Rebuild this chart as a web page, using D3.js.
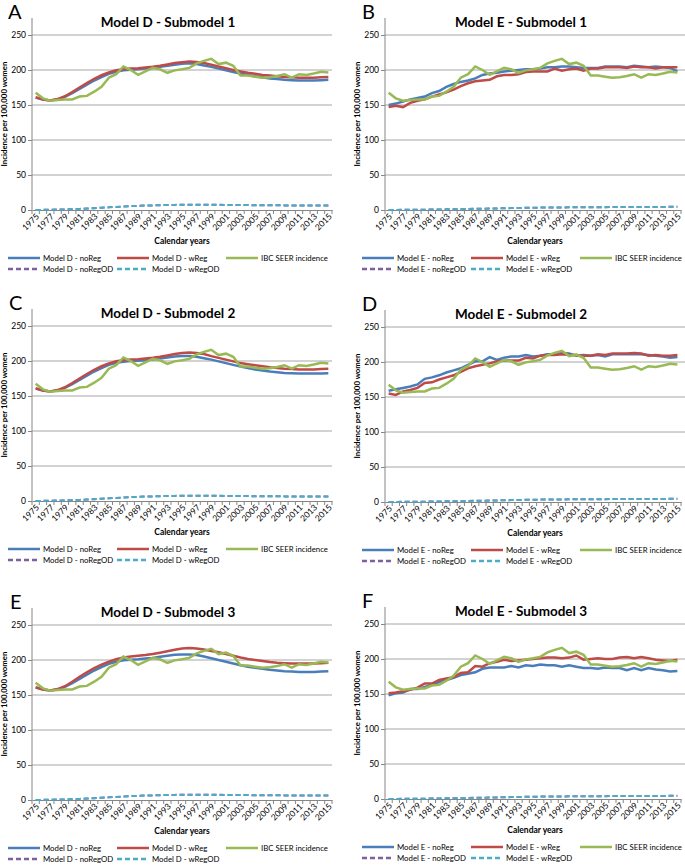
<!DOCTYPE html>
<html><head><meta charset="utf-8">
<script src="https://cdn.jsdelivr.net/npm/d3@7"></script>
<style>
html,body{margin:0;padding:0;background:#fff;}
svg{display:block;font-family:Lato,"Open Sans",sans-serif;}
</style></head>
<body><svg id="c" width="685" height="867"></svg>
<script>
const years = d3.range(1975, 2016);
const tickYears = d3.range(1975, 2016, 2);
const yTicks = [0, 50, 100, 150, 200, 250];

const seer = [167.5,159.5,156,157,158,158,162,163,169,176,189,194,205,200,193,198,203,201,196,199.5,201,203,209.5,213,216,208.5,210.5,206,192,192,190.5,189,189.5,191.5,194,189,194,193,195,197.5,196.5];

const dNoReg1 = [160.5,158,156.5,158,161.5,167,173,179,185,190,194.5,197.5,199.5,200.5,201,202,203,204.5,206,207.5,209,209.5,208.5,206.5,204.5,202,199.5,197,195,193,191,189.5,188,187,186,185.5,185,185,185,185.5,186];
const dWReg1 = [161,158,156.5,158.5,162.5,168.5,175,181.5,187.5,192.5,196.5,199.5,201,202,202.5,203.5,204.5,206,208,210,211,212,211.5,210,207.5,205,202.5,200,198,196,194.5,193,192,191,190,189.5,189,189,189,189.5,190];
const dNoReg2 = [160.5,158,156.5,158,161.5,167,173,179,185,190,194.5,197.5,199,200,200.5,201,202,203.5,205,206.5,207,207,206,204,202,199.5,197,194.5,192,190,188,186.5,185,184,183,182.5,182,182,182,182,182.5];
const dWReg2 = [161,158,156.5,158.5,162.5,168.5,175,181.5,187.5,192.5,196.5,199.5,201,202,202.5,203.5,204.5,206,208,210,211.5,212,211.5,210,207,204.5,202,199.5,197,195.5,194,192.5,191,190,189,188.5,188,188,188,188.5,189];
const dNoReg3 = [160.5,158,156.5,158,161.5,167,173,179,185,190,194.5,197.5,199.5,200.5,201,202,203,204.5,206,207.5,208,208,207,205,202.5,200,197.5,195,192.5,190.5,189,187.5,186,185,184,183.5,183,183,183,183.5,184];
const dWReg3 = [161,158,156.5,158.5,162.5,169,176,182.5,188.5,193.5,197.5,201,203.5,205,206,207,208.5,210.5,212.5,214.5,216.5,217,216.5,215,213,211,208.5,206,203.5,201.5,200,198.5,197,196,195.5,195,195,195,195,195.5,196];

const eNoReg1 = [150,152,155,158,160,162,167,170,176,180,183,185,188,193,195,196,198,199,200,201,201,202,204,204,205,205,204,203,203,203,205,205,205,204,206,205,204,205,204,203,198];
const eWReg1 = [147,149,147,153,156,158,162,165,168,172,177,181,184,185,186,191,193,193,194,197,198,198,198,202,199,201,202,199,202,202,204,204,204,203,205,204,204,202,204,204,204];
const eNoReg2 = [159,161,163,165,168,176,178,181,185,188,191,196,201,201,207,203,206,208,208,210,208,209,211,211,213,212,209,210,209,210,208,211,211,211,211,211,210,209,208,206,207];
const eWReg2 = [155,153,158,160,163,170,171,175,178,181,186,191,194,196,198,201,202,202,202,206,205,209,210,210,211,210,210,209,209,211,210,212,212,212,213,212,209,210,209,209,210];
const eNoReg3 = [148,151,152,157,157,160,163,167,170,173,177,179,181,186,188,188,188,190,188,191,190,192,191,191,189,191,189,187,187,186,188,187,187,184,187,184,187,185,184,182,183];
const eWReg3 = [151,152,154,156,159,165,165,170,172,174,180,181,190,189,194,196,199,197,198,199,200,201,202,202,201,202,205,199,200,201,200,200,202,203,201,203,201,199,198,197,199];

const dNoRegOD = [0,0.2,0.4,0.6,0.9,1.2,1.6,2,2.6,3.2,3.8,4.4,5,5.5,5.9,6.3,6.6,6.9,7.1,7.3,7.4,7.5,7.5,7.5,7.5,7.4,7.3,7.2,7.1,7,6.9,6.8,6.7,6.7,6.6,6.6,6.5,6.5,6.5,6.5,6.5];
const dWRegOD = [0,0.2,0.4,0.6,0.9,1.2,1.6,2,2.6,3.2,3.8,4.4,5,5.5,5.9,6.3,6.6,6.9,7.1,7.3,7.4,7.5,7.5,7.5,7.5,7.4,7.3,7.2,7.1,7,6.9,6.8,6.7,6.7,6.6,6.6,6.5,6.5,6.5,6.5,6.5];
const eNoRegOD = [0,0.1,0.2,0.3,0.4,0.5,0.6,0.7,0.9,1.1,1.3,1.5,1.7,1.9,2.1,2.3,2.5,2.7,2.9,3.1,3.3,3.4,3.5,3.6,3.7,3.8,3.9,4,4,4.1,4.1,4.2,4.2,4.3,4.3,4.3,4.4,4.4,4.4,4.5,4.5];
const eWRegOD = [0,0.1,0.2,0.3,0.4,0.5,0.6,0.7,0.9,1.1,1.3,1.5,1.7,1.9,2.1,2.3,2.5,2.7,2.9,3.1,3.3,3.4,3.5,3.6,3.7,3.8,3.9,4,4,4.1,4.1,4.2,4.2,4.3,4.3,4.3,4.4,4.4,4.4,4.5,4.5];

const panelLetters = ["A","B","C","D","E","F"];
const panelTitles = ["Model D - Submodel 1","Model E - Submodel 1","Model D - Submodel 2","Model E - Submodel 2","Model D - Submodel 3","Model E - Submodel 3"];
const panelModels = ["D","E","D","E","D","E"];
const panelNoReg = [dNoReg1,eNoReg1,dNoReg2,eNoReg2,dNoReg3,eNoReg3];
const panelWReg = [dWReg1,eWReg1,dWReg2,eWReg2,dWReg3,eWReg3];

const C = {blue:"#4a7ebb", red:"#be4b48", green:"#98b954", purple:"#7d60a0", cyan:"#4bacc6"};

const svg = d3.select("#c");
const layout = [
  {x0:32, w:300, top:35, bot:210, lx:8, letx:8},
  {x0:385, w:296, top:35, bot:210, lx:362, letx:362},
  {x0:32, w:300, top:326, bot:501, lx:8, letx:9},
  {x0:385, w:296, top:327, bot:502, lx:362, letx:362},
  {x0:32, w:300, top:625, bot:800, lx:8, letx:10},
  {x0:385, w:296, top:624, bot:799, lx:362, letx:362}
];

panelTitles.forEach((title, p) => {
  const L = layout[p];
  const g = svg.append("g");
  const x = d3.scaleBand().domain(years).range([L.x0, L.x0 + L.w]);
  const y = d3.scaleLinear().domain([0, 250]).range([L.bot, L.top]);
  const cx = yr => x(yr) + x.bandwidth() / 2;
  const m = panelModels[p];

  // gridlines
  g.append("g").selectAll("line").data(yTicks.filter(t => t > 0)).join("line")
    .attr("x1", L.x0).attr("x2", L.x0 + L.w + (p % 2 ? 4 : 0))
    .attr("y1", d => y(d)).attr("y2", d => y(d))
    .attr("stroke", "#a6a6a6").attr("stroke-width", 1);

  // y axis
  const ya = d3.axisLeft(y).tickValues(yTicks).tickSize(4).tickPadding(2);
  const yg = g.append("g").attr("transform", `translate(${L.x0},0)`).call(ya);
  yg.select(".domain").remove();
  yg.selectAll(".tick line").attr("stroke", "#868686");
  yg.selectAll(".tick text").attr("font-size", 8.5).attr("fill", "#000").attr("font-family", "Lato");
  g.append("line").attr("x1", L.x0).attr("x2", L.x0).attr("y1", L.top - 17).attr("y2", L.bot)
    .attr("stroke", "#868686").attr("stroke-width", 1);

  // x axis
  const xa = d3.axisBottom(x).tickValues(tickYears).tickSize(0).tickPadding(0);
  const xg = g.append("g").attr("transform", `translate(0,${L.bot})`).call(xa);
  xg.select(".domain").attr("stroke", "#868686");
  xg.selectAll(".tick text")
    .attr("font-size", 8.5).attr("fill", "#000").attr("font-family", "Lato")
    .attr("text-anchor", "end").attr("dy", null)
    .attr("transform", "translate(2,5) rotate(-45)")
    .attr("y", 0).attr("x", 0).attr("dominant-baseline", "central");
  g.append("g").selectAll("line").data(years.concat([2016])).join("line")
    .attr("x1", d => d === 2016 ? L.x0 + L.w : x(d)).attr("x2", d => d === 2016 ? L.x0 + L.w : x(d))
    .attr("y1", L.bot).attr("y2", L.bot + 4).attr("stroke", "#868686");

  // series
  const line = vals => d3.line().x((d, i) => cx(years[i])).y(d => y(d))(vals);
  const odN = m === "D" ? dNoRegOD : eNoRegOD;
  const odW = m === "D" ? dWRegOD : eWRegOD;
  g.append("path").attr("d", line(odN)).attr("fill", "none").attr("stroke", C.purple).attr("stroke-width", 2).attr("stroke-dasharray", "5,3");
  g.append("path").attr("d", line(odW)).attr("fill", "none").attr("stroke", C.cyan).attr("stroke-width", 2).attr("stroke-dasharray", "5,3");
  g.append("path").attr("d", line(panelNoReg[p])).attr("fill", "none").attr("stroke", C.blue).attr("stroke-width", 2.5);
  g.append("path").attr("d", line(panelWReg[p])).attr("fill", "none").attr("stroke", C.red).attr("stroke-width", 2.5);
  g.append("path").attr("d", line(seer)).attr("fill", "none").attr("stroke", C.green).attr("stroke-width", 2.5);

  // titles
  g.append("text").attr("x", L.x0 + 136).attr("y", L.top - 8).attr("text-anchor", "middle")
    .attr("font-size", 13.5).attr("font-weight", "bold").text(title);
  g.append("text").attr("x", L.letx).attr("y", L.top - 16)
    .attr("font-size", 20).text(panelLetters[p]);
  g.append("text").attr("transform", `translate(${L.x0 - 25},${(L.top - 17 + L.bot) / 2}) rotate(-90)`)
    .attr("text-anchor", "middle").attr("font-size", 7.8).attr("font-weight", "bold")
    .text("Incidence per 100,000 women");
  g.append("text").attr("x", L.x0 + 150).attr("y", L.bot + 34).attr("text-anchor", "middle")
    .attr("font-size", 8.5).attr("font-weight", "bold").text("Calendar years");

  // legend
  const lx = L.lx;
  const items = [
    {c: C.blue, t: `Model ${m} - noReg`, dx: 0, row: 0, dash: null},
    {c: C.red, t: `Model ${m} - wReg`, dx: 109, row: 0, dash: null},
    {c: C.green, t: "IBC SEER incidence", dx: 218, row: 0, dash: null},
    {c: C.purple, t: `Model ${m} - noRegOD`, dx: 0, row: 1, dash: "5,3"},
    {c: C.cyan, t: `Model ${m} - wRegOD`, dx: 109, row: 1, dash: "5,3"}
  ];
  items.forEach(it => {
    const ly = L.bot + 48 + it.row * 11;
    g.append("line").attr("x1", lx + it.dx).attr("x2", lx + it.dx + 32)
      .attr("y1", ly).attr("y2", ly).attr("stroke", it.c).attr("stroke-width", 2.5)
      .attr("stroke-dasharray", it.dash);
    g.append("text").attr("x", lx + it.dx + 35).attr("y", ly + 3)
      .attr("font-size", 7.8).text(it.t);
  });
});
</script></body></html>
